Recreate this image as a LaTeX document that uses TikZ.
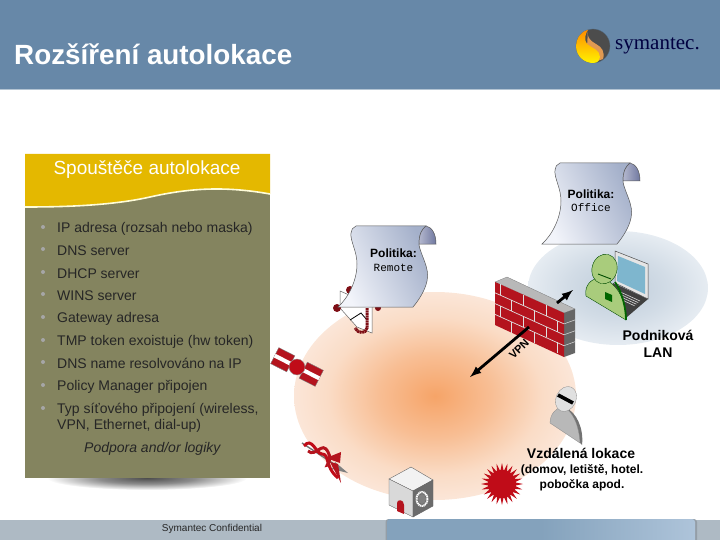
\documentclass[tikz,border=0pt]{standalone}
\usepackage{fontspec}
\setmainfont{Liberation Sans}
\newfontfamily\logofont{Liberation Serif}
\setmonofont{Liberation Mono}
\usetikzlibrary{calc}

\definecolor{headerblue}{HTML}{6788A8}
\definecolor{footgray}{HTML}{AEBAC4}
\definecolor{footblue}{HTML}{84A2BC}
\definecolor{footpale}{HTML}{AEC4DA}
\definecolor{trigyellow}{HTML}{E4B800}
\definecolor{trigolive}{HTML}{84845F}
\definecolor{brickred}{HTML}{B4141E}
\definecolor{personred}{HTML}{C00C18}
\definecolor{persongreen}{HTML}{A9CC7C}
\definecolor{scrollpale}{HTML}{F2F4FA}
\definecolor{scrolldark}{HTML}{A4B0CA}
\definecolor{curlpale}{HTML}{B4B8CE}
\definecolor{curldark}{HTML}{7078A0}
\definecolor{glowa}{HTML}{F6A468}
\definecolor{glowb}{HTML}{F8BE94}
\definecolor{glowc}{HTML}{FADCC6}
\definecolor{glowd}{HTML}{FBE6D8}
\definecolor{lana}{HTML}{BECCDA}
\definecolor{lanb}{HTML}{D2DCE6}
\definecolor{lanc}{HTML}{E6ECF2}

\pgfdeclareradialshading{remoteglow}{\pgfpoint{0bp}{0bp}}{color(0bp)=(glowa);color(10bp)=(glowb);color(19bp)=(glowc);color(25bp)=(glowd);color(50bp)=(glowd)}
\pgfdeclareradialshading{officeglow}{\pgfpoint{0bp}{0bp}}{color(0bp)=(lana);color(14bp)=(lanb);color(25bp)=(lanc);color(50bp)=(lanc)}
\pgfdeclareradialshading{panelshadow}{\pgfpoint{0bp}{0bp}}{color(0bp)=(black!70);color(12bp)=(black!45);color(25bp)=(white);color(50bp)=(white)}

\tikzset{
	bulletitem/.style={anchor=west,yshift=-1.5pt,font=\fontsize{14}{14}\selectfont,text=black!85,inner sep=0pt},
	bulletdot/.style={circle,fill=black!35,inner sep=0pt,minimum size=4pt},
	placelabel/.style={align=center,font=\bfseries\fontsize{14}{17}\selectfont,inner sep=0pt},
	policyhead/.style={font=\bfseries\fontsize{12}{12}\selectfont,inner sep=0pt},
	policyname/.style={font=\ttfamily\fontsize{11}{11}\selectfont,inner sep=0pt},
	tunnel/.style={-latex,line width=2.8pt,black},
	pics/policyscroll/.style={code={
		\draw[draw=black!65,line width=.5pt,left color=scrollpale,right color=scrolldark,shading angle=115]
			(0,81) .. controls (10,72) and (19,55) .. (19,38) .. controls (19,25) and (12,15) .. (13,7) .. controls (13,4) and (15,1) .. (18,0) -- (88,0)
			.. controls (84,3) and (81,8) .. (81,19) .. controls (83,30) and (92,42) .. (89,55) .. controls (87,65) and (80,75) .. (75,81) -- cycle;
		\draw[draw=black!65,line width=.5pt,left color=curlpale,right color=curldark]
			(88,0) .. controls (94,1) and (98,8) .. (98,18) -- (81,18) .. controls (81,8) and (84,3) .. (88,0) -- cycle;
	}}
}

\begin{document}
\begin{tikzpicture}[x=1pt,y=-1pt]
	\useasboundingbox (0,0) rectangle (720,540);

	%% header
	\fill[headerblue] (0,0) rectangle (720,89);
	\fill[headerblue!50!white] (0,89) rectangle (720,90.5);
	\node[anchor=west,text=white,inner sep=0pt,font=\bfseries\fontsize{27.8}{27.8}\selectfont] (Title) at (14,54) {Rozšíření autolokace};

	%% logo
	\fill[black!70,draw=headerblue!80!black,line width=.3pt] (593,46) circle (17);
	\fill[orange!40!brown!80!white] (588,30) .. controls (586,36) and (590,41) .. (596,44) .. controls (602,47) and (605,52) .. (603,59)
		-- (597,61) .. controls (599,55) and (593,51) .. (587,47) -- cycle;
	\shade[top color=orange!90!yellow,bottom color=yellow!90!orange] (588,29.8) .. controls (580,32) and (576,39) .. (576,46) .. controls (576,56) and (584,63) .. (593,63)
		.. controls (598,63) and (600,60) .. (600,57) .. controls (600,50) and (592,48) .. (587,44) .. controls (584,40) and (585,34) .. (588,29.8) -- cycle;
	\node[anchor=west,text=black!75!blue,inner sep=0pt,font=\logofont\fontsize{21}{21}\selectfont] (Logo) at (615,46) {symantec.};

	%% triggers panel
	\shade[shading=panelshadow] (147,478) ellipse (100 and 12);
	\fill[trigolive] (25,154) rectangle (270,478);
	\fill[trigyellow] (25,154) -- (270,154) -- (270,194) .. controls (225,186) and (190,188) .. (150,197) .. controls (110,206) and (60,207) .. (25,207) -- cycle;
	\draw[line width=1.6pt,yellow!15!white] (25,207) .. controls (60,207) and (110,206) .. (150,197) .. controls (190,188) and (225,186) .. (270,194);
	\node[text=white,inner sep=0pt,font=\fontsize{19}{19}\selectfont] (TrigTitle) at (147,169.5) {Spouštěče autolokace};

	\foreach \name/\y/\item in {
		ip/227/IP adresa (rozsah nebo maska),
		dns/249/DNS server,
		dhcp/272/DHCP server,
		wins/294/WINS server,
		gate/317/Gateway adresa,
		tmp/340/TMP token exoistuje (hw token),
		dnsname/362/DNS name resolvováno na IP,
		policy/385/Policy Manager připojen,
		type/408/{Typ síťového připojení (wireless,}
	}{
		\node[bulletdot] (dot\name) at (43,\y) {};
		\node[bulletitem] (\name) at (57,\y) {\item};
	}
	\node[bulletitem] (type2) at (57,424) {VPN, Ethernet, dial-up)};
	\node[bulletitem,font=\itshape\fontsize{14}{14}\selectfont] (logic) at (84,447) {Podpora and/or logiky};

	%% zones
	\shade[shading=remoteglow] (435,396) ellipse (141 and 104);
	\shade[shading=officeglow] (618,288) ellipse (90 and 57);

	%% dish
	\fill[white,draw=black!60,line width=.5pt] (340,291) -- (340,308) -- (357,327) -- (372,333) -- (372,305) -- cycle;
	\draw[black,line width=.8pt] (350,320) -- (361,313) -- (367,320);
	\draw[brickred!70!black,line width=3pt,dash pattern=on 2pt off .5pt] (367,308) -- (367,328) .. controls (366,334) and (358,334) .. (355,328);
	\fill[brickred!70!black] (337,308) circle (4) (350,290) circle (4) (378,308) circle (3);

	%% policies
	\pic at (542,163) {policyscroll};
	\node[policyhead] (OfficeHead) at (591,194) {Politika:};
	\node[policyname] (OfficeName) at (591,208) {Office};
	\pic at (338,226) {policyscroll};
	\node[policyhead] (RemoteHead) at (393.5,253) {Politika:};
	\node[policyname] (RemoteName) at (393.5,268) {Remote};

	%% satellite
	\begin{scope}[shift={(297,367)},rotate=-27]
		\foreach \sx in {-16,16}{
			\fill[brickred,draw=black!50,line width=.4pt] (\sx-9,-9) rectangle (\sx+9,9);
			\fill[white] (\sx-9,-2) rectangle (\sx+9,2);
		}
		\fill[personred,draw=black!40,line width=.4pt] (0,0) circle (8);
	\end{scope}

	%% tool
	\draw[black!55,line width=1.4pt] (302,443) -- (340,468);
	\fill[black!50] (335,462) -- (348,473) -- (332,469) -- cycle;
	\fill[brickred] (326,458) -- (341,452) -- (340,463) -- cycle (330,462) -- (338,464) -- (341,483) -- cycle;
	\draw[personred,line width=3pt] (304,446) .. controls (312,436) and (316,454) .. (322,454) .. controls (330,454) and (324,466) .. (338,478);
	\draw[brickred,line width=3pt] (308,451) .. controls (316,458) and (322,440) .. (328,452) .. controls (334,462) and (322,468) .. (330,464);

	%% safe
	\fill[white!95!black,draw=black!60,line width=.4pt] (389,479) -- (411,467) -- (433,480) -- (413,491) -- cycle;
	\fill[black!15,draw=black!60,line width=.4pt] (389,479) -- (413,491) -- (413,517) -- (389,505) -- cycle;
	\fill[black!58,draw=black!60,line width=.4pt] (413,491) -- (433,480) -- (433,506) -- (413,517) -- cycle;
	\fill[brickred] (397,511) -- (397,503) .. controls (397,499) and (404,499) .. (404,505) -- (404,514) -- cycle;
	\draw[white,line width=2pt,dash pattern=on 1.2pt off .6pt] (422,499) ellipse (5.5 and 7);
	\fill[black!50] (422,499) ellipse (4 and 5);

	%% remote user
	\fill[black!55] (566,408) .. controls (576,412) and (584,428) .. (582,445) -- (578,441) -- cycle;
	\fill[black!28,draw=black!45,line width=.3pt] (550,423) .. controls (550,414) and (556,408) .. (562,407) .. controls (572,409) and (579,425) .. (580,443) -- cycle;
	\fill[black!12,draw=black!45,line width=.3pt,rotate around={-25:(566,399)}] (566,399) ellipse (10 and 13);
	\draw[black,line width=3.6pt] (558,395) -- (573,403);

	%% burst
	\fill[personred] (523,484)
		\foreach \a in {0,15,...,345}{ -- ($(502,484)+(\a:21)$) -- ($(502,484)+(\a+7.5:13)$) } -- cycle;
	\fill[personred] (502,484) circle (14);

	%% office user
	\fill[black!75] (613,283) -- (648,299) -- (627,317) -- (607,300) -- cycle;
	\foreach \s in {0,.2,.4,.6}{\draw[white!70!gray,line width=.6pt] ($(616,290)!\s!(608,298)$) -- ($(640,301)!\s!(631,309)$);}
	\fill[white!90!black,draw=black!70,line width=.5pt] (615,251) -- (648,264) -- (648,299) -- (615,283) -- cycle;
	\fill[blue!30!cyan!45!gray!70!white] (618,256) -- (645,267) -- (645,294) -- (617,281) -- cycle;
	\fill[persongreen,draw=green!30!black,line width=.4pt] (586,296) .. controls (584,285) and (592,278) .. (600,278) .. controls (615,280) and (627,300) .. (626,320) -- cycle;
	\draw[green!40!black,line width=1.8pt] (615,282) .. controls (622,292) and (626,308) .. (626,320);
	\fill[persongreen,draw=green!30!black,line width=.4pt,rotate around={-15:(604.5,269)}] (604.5,269) ellipse (12.5 and 15);
	\fill[green!40!black] (605,292) -- (612,295) -- (612,302) -- (605,299) -- cycle;
	\draw[black!70!green,line width=.9pt] (598,274) -- (611,279);

	%% firewall
	\fill[black!28,draw=black!50,line width=.3pt] (495,282) -- (507,277) -- (575,309) -- (564,313) -- cycle;
	\fill[black!60] (564,313) -- (575,309) -- (575,353) -- (564,357) -- cycle;
	\fill[brickred] (495,282) -- (564,313) -- (564,357) -- (495,325) -- cycle;
	\foreach \r in {1,2,3}{
		\draw[white!75!gray,line width=.7pt] (495,282+\r*10.8) -- (564,313+\r*10.9);
		\draw[white!75!gray,line width=.5pt] (564,313+\r*10.9) -- (575,309+\r*10.9);
	}
	\foreach \r/\o in {0/.08,1/.24,2/.08,3/.24}{
		\foreach \k in {0,1,2}{
			\pgfmathsetmacro{\t}{\o+\k*.33}
			\pgfmathsetmacro{\jx}{495+69*\t}
			\pgfmathsetmacro{\jy}{282+31*\t+\r*10.85}
			\draw[white!75!gray,line width=.7pt] (\jx,\jy) -- (\jx,\jy+10.8);
		}
	}

	%% tunnels
	\coordinate (VpnStart) at (529,327);
	\coordinate (VpnEnd) at (470,377);
	\coordinate (LanStart) at (557,303);
	\coordinate (LanEnd) at (573,290);
	\draw[tunnel] (VpnStart) to (VpnEnd);
	\draw[tunnel] (LanStart) to (LanEnd);
	\node[rotate=45,inner sep=0pt,font=\bfseries\fontsize{11}{11}\selectfont] (VpnLabel) at (519,349) {VPN};

	%% labels
	\node[placelabel] (LanLabel) at (658,343.5) {Podniková\\LAN};
	\node[placelabel] (RemoteLabel) at (581,453) {Vzdálená lokace};
	\node[align=center,inner sep=0pt,font=\bfseries\fontsize{12}{15}\selectfont] (RemoteList) at (582,477.5) {(domov, letiště, hotel.\\pobočka apod.};

	%% footer
	\fill[footgray] (0,520) rectangle (720,540);
	\fill[black!15!footgray] (385.5,540) -- (385.5,522) arc (180:270:3) -- (694,519) arc (270:360:3) -- (697,540) -- cycle;
	\shade[left color=footblue,right color=footpale,middle color=footblue,rounded corners=3pt] (387,545) -- (387,519) -- (695,519) -- (695,545) -- cycle;
	\node[text=black!85,inner sep=0pt,font=\fontsize{10}{10}\selectfont] (Confidential) at (212,529) {Symantec Confidential};
\end{tikzpicture}
\end{document}
